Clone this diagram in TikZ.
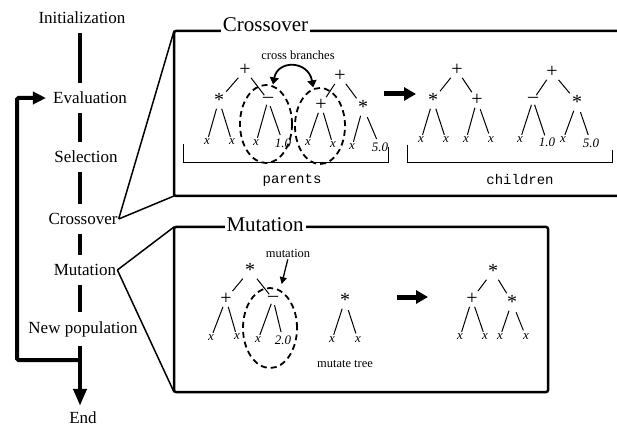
\documentclass[tikz,border=0pt]{standalone}
\usepackage{fontspec}
\setmainfont{Liberation Serif}
\setmonofont{Liberation Mono}
\usetikzlibrary{arrows.meta,shapes.geometric}
\newcommand{\fsz}[1]{\fontsize{#1}{#1}\selectfont}

\begin{document}
\begin{tikzpicture}[x=1pt,y=-1pt,
    lbl/.style={font=\fsz{17},inner sep=1pt},
    ttl/.style={font=\fsz{21},fill=white,inner sep=2pt,anchor=base},
    op/.style={font=\fsz{20},inner sep=2pt},
    lf/.style={font=\fsz{13}\itshape,inner sep=2pt},
    note/.style={font=\fsz{12.5},inner sep=1pt},
    ttw/.style={font=\fsz{14}\ttfamily,inner sep=1pt},
    br/.style={line width=1pt,shorten <=1.5pt,shorten >=1.5pt},
    spine/.style={line width=4pt,shorten <=8pt,shorten >=8pt},
    link/.style={line width=1.5pt},
    boxln/.style={line width=2.5pt,rounded corners=2pt},
    dsh/.style={ellipse,draw,line width=1.8pt,dash pattern=on 6pt off 4pt,inner sep=0pt},
    fat/.style={line width=5pt,-{Triangle[length=12pt,width=13pt]}}]
  \useasboundingbox (0,0) rectangle (617,435);

  \node[lbl] (init) at (82,18) {Initialization};
  \node[lbl] (eval) at (90,98) {Evaluation};
  \node[lbl] (sel) at (86,157) {Selection};
  \node[lbl] (cross) at (83,219) {Crossover};
  \node[lbl] (mut) at (85,270) {Mutation};
  \node[lbl] (newp) at (83,329) {New population};
  \node[lbl] (fin) at (83,418) {End};
  \coordinate (sp) at (80,0);
  \coordinate (jn) at (80,360);
  \coordinate (lp) at (17,360);

  \draw[spine] (init.south -| sp) -- (eval.north -| sp);
  \draw[spine] (eval.south -| sp) -- (sel.north -| sp);
  \draw[spine] (sel.south -| sp) -- (cross.north -| sp);
  \draw[spine] (cross.south -| sp) -- (mut.north -| sp);
  \draw[spine] (mut.south -| sp) -- (newp.north -| sp);
  \draw[spine,shorten >=0pt] (newp.south -| sp) -- (jn);
  \draw[spine,shorten <=0pt,shorten >=5pt,-{Triangle[length=17pt,width=13pt]}] (jn) -- (fin.north -| sp);
  \draw[spine,shorten <=0pt,shorten >=6pt,rounded corners=1.5pt,-{Triangle[length=13pt,width=12pt]}] (jn) -- (lp) |- (eval.west);

  \coordinate (ctl) at (174,31);
  \coordinate (cbl) at (174,196);
  \coordinate (mtl) at (174,227);
  \coordinate (mbl) at (174,392);
  \draw[link] (cross.east) -- (ctl);
  \draw[link] (cross.east) -- (cbl);
  \draw[link] (mut.east) -- (mtl);
  \draw[link] (mut.east) -- (mbl);
  \draw[boxln] (625,31) -- (ctl) -- (cbl) -- (625,196);
  \draw[boxln] (mtl) rectangle (548,392);
  \node[ttl] (ctitle) at (265.5,32) {Crossover};
  \node[ttl] (mtitle) at (265,232) {Mutation};

  \node[op] (pa) at (245,70) {+};
  \node[op] (pa1) at (219,100) {*};
  \node[op] (pa2) at (268,100) {–};
  \node[lf] (pa11) at (207,142) {x};
  \node[lf] (pa12) at (232,142) {x};
  \node[lf] (pa21) at (256,143) {x};
  \node[lf] (pa22) at (283,143) {1.0};
  \node[op] (pb) at (340,76) {+};
  \node[op] (pb1) at (321,105) {+};
  \node[op] (pb2) at (363,107) {*};
  \node[lf] (pb11) at (308,143) {x};
  \node[lf] (pb12) at (333,145) {x};
  \node[lf] (pb21) at (352,147) {x};
  \node[lf] (pb22) at (380,147) {5.0};
  \draw[br] (pa) -- (pa1) (pa) -- (pa2) (pa1) -- (pa11) (pa1) -- (pa12) (pa2) -- (pa21) (pa2) -- (pa22);
  \draw[br] (pb) -- (pb1) (pb) -- (pb2) (pb1) -- (pb11) (pb1) -- (pb12) (pb2) -- (pb21) (pb2) -- (pb22);
  \node[dsh,minimum width=52pt,minimum height=78pt] (ea) at (266,124) {};
  \node[dsh,minimum width=50pt,minimum height=76pt] (eb) at (320,126) {};
  \node[note] (swap) at (298,55) {cross branches};
  \draw[line width=1.8pt,shorten <=1pt,shorten >=1pt,{Triangle[length=7pt,width=9pt]}-{Triangle[length=7pt,width=9pt]}]
    (ea.80) .. controls +(5,-26) and +(-5,-28) .. (eb.100);
  \draw[line width=1pt] (183,144) |- (388,163) -- (388,147);
  \node[ttw] (par) at (292,180) {parents};

  \coordinate (xa) at (384,94);
  \coordinate (xb) at (416,94);
  \draw[fat] (xa) -- (xb);

  \node[op] (ca) at (457,70) {+};
  \node[op] (ca1) at (433,100) {*};
  \node[op] (ca2) at (477,100) {+};
  \node[lf] (ca11) at (421,140) {x};
  \node[lf] (ca12) at (446,140) {x};
  \node[lf] (ca21) at (466,140) {x};
  \node[lf] (ca22) at (491,140) {x};
  \node[op] (cb) at (552,72) {+};
  \node[op] (cb1) at (533,100) {–};
  \node[op] (cb2) at (577,102) {*};
  \node[lf] (cb11) at (520,140) {x};
  \node[lf] (cb12) at (547,142) {1.0};
  \node[lf] (cb21) at (563,140) {x};
  \node[lf] (cb22) at (591,143) {5.0};
  \draw[br] (ca) -- (ca1) (ca) -- (ca2) (ca1) -- (ca11) (ca1) -- (ca12) (ca2) -- (ca21) (ca2) -- (ca22);
  \draw[br] (cb) -- (cb1) (cb) -- (cb2) (cb1) -- (cb11) (cb1) -- (cb12) (cb2) -- (cb21) (cb2) -- (cb22);
  \draw[line width=1pt] (407,145) |- (612,163) -- (612,150);
  \node[ttw] (chl) at (520,180) {children};

  \node[op] (ma) at (250,270) {*};
  \node[op] (ma1) at (226,299) {+};
  \node[op] (ma2) at (273,299) {–};
  \node[lf] (ma11) at (211,338) {x};
  \node[lf] (ma12) at (237,337) {x};
  \node[lf] (ma21) at (258,340) {x};
  \node[lf] (ma22) at (283,340) {2.0};
  \draw[br] (ma) -- (ma1) (ma) -- (ma2) (ma1) -- (ma11) (ma1) -- (ma12) (ma2) -- (ma21) (ma2) -- (ma22);
  \node[dsh,minimum width=54pt,minimum height=80pt] (em) at (270,328) {};
  \node[note] (mlab) at (288,253) {mutation};
  \draw[line width=1.3pt,shorten <=1pt,shorten >=6pt,-{Triangle[length=7pt,width=7pt]}] (mlab.south) -- (em.75);

  \node[op] (mt) at (345,300) {*};
  \node[lf] (mt1) at (332,340) {x};
  \node[lf] (mt2) at (358,340) {x};
  \draw[br] (mt) -- (mt1) (mt) -- (mt2);
  \node[note] (mtl) at (345,364) {mutate tree};

  \coordinate (ma0) at (397,297);
  \coordinate (mb0) at (428,297);
  \draw[fat] (ma0) -- (mb0);

  \node[op] (ra) at (493,271) {*};
  \node[op] (ra1) at (472,299) {+};
  \node[op] (ra2) at (512,302) {*};
  \node[lf] (ra11) at (460,337) {x};
  \node[lf] (ra12) at (485,337) {x};
  \node[lf] (ra21) at (500,337) {x};
  \node[lf] (ra22) at (526,337) {x};
  \draw[br] (ra) -- (ra1) (ra) -- (ra2) (ra1) -- (ra11) (ra1) -- (ra12) (ra2) -- (ra21) (ra2) -- (ra22);
\end{tikzpicture}
\end{document}
